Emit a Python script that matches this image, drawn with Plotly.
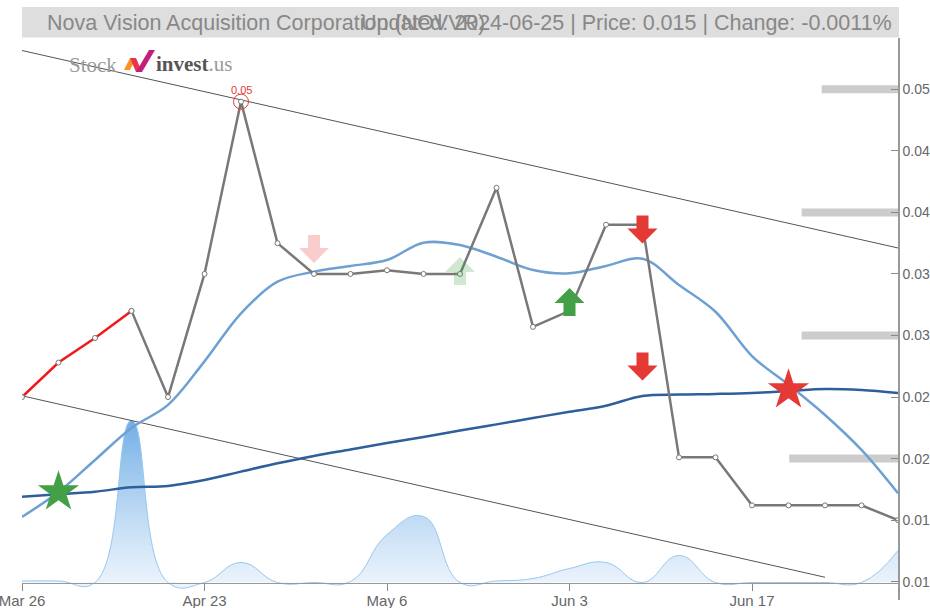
import plotly.graph_objects as go

# ---------------- data ----------------
n_points = 25
x_idx = list(range(n_points))
tick_idx = [0, 5, 10, 15, 20]
tick_labels = ["Mar 26", "Apr 23", "May 6", "Jun 3", "Jun 17"]

price = [0.025, 0.0278, 0.0298, 0.032, 0.025, 0.035, 0.049, 0.0375, 0.035, 0.035,
         0.0353, 0.035, 0.035, 0.042, 0.0307, 0.032, 0.039, 0.039, 0.0201, 0.0201,
         0.0162, 0.0162, 0.0162, 0.0162, 0.015]
red_segment_end = 3

ma_short = [0.01526, 0.01729, 0.01989, 0.02249, 0.02436, 0.0279, 0.0318, 0.03437,
            0.03518, 0.03565, 0.03613, 0.03754, 0.03735, 0.0364, 0.03532, 0.03505,
            0.03565, 0.03624, 0.0341, 0.03193, 0.02833, 0.026, 0.02354, 0.0207, 0.01718]
ma_long = [0.0169, 0.0171, 0.01731, 0.01767, 0.01778, 0.01826, 0.01894, 0.01962,
           0.02021, 0.02074, 0.02127, 0.02175, 0.02228, 0.02278, 0.0233, 0.0238,
           0.0243, 0.02509, 0.0252, 0.02525, 0.02533, 0.02549, 0.02565, 0.02557, 0.02533]
volume = [1.5, 1.5, 0, 162, 0, 0, 20, 0, 0, 1, 48, 66, 0, 1.5, 4, 14, 20, 0, 27,
          0, 0, 0, 0, 0, 32]

trend_upper_x = [0, 24]
trend_upper_y = [0.05315, 0.03711]
trend_lower_x = [0, 22]
trend_lower_y = [0.0251, 0.01036]

level_price = [0.05, 0.04, 0.03, 0.02]
level_len = [2.09, 2.64, 2.64, 2.98]

arrow_x = [8, 12, 15, 17, 17]
arrow_y = [0.03703, 0.03524, 0.03272, 0.03861, 0.02748]
arrow_kind = ["sell_faded", "buy_faded", "buy", "sell", "sell"]

star_x = [1, 21]
star_y = [0.01729, 0.02557]
star_kind = ["buy", "sell"]

peak_idx = 6
peak_label = "0.05"

title_left = "Nova Vision Acquisition Corporation (NOVVR)"
title_right = "Updated: 2024-06-25 | Price: 0.015 | Change: -0.0011%"

# ---------------- styles ----------------
FONT = "Liberation Sans, Arial, sans-serif"
GREEN = "rgb(67,160,71)"
RED = "rgb(229,57,53)"
kind_color = {
    "buy": GREEN, "sell": RED,
    "buy_faded": "rgba(67,160,71,0.25)", "sell_faded": "rgba(229,57,53,0.25)",
}
kind_dir = {"buy": "up", "buy_faded": "up", "sell": "down", "sell_faded": "down"}
ARROW_PATH = {
    "down": "M-6,14 L6,14 L6,1 L15,1 L0,-14 L-15,1 L-6,1 Z",
    "up": "M-6,-14 L6,-14 L6,-1 L15,-1 L0,14 L-15,-1 L-6,-1 Z",
}

fig = go.Figure()

vmax = max(volume)
fig.add_trace(go.Scatter(
    x=x_idx, y=volume, mode="lines",
    line=dict(shape="spline", smoothing=1.3, color="rgb(150,200,240)", width=1),
    fill="tozeroy",
    fillgradient=dict(type="vertical",
                      colorscale=[[0, "rgba(230,240,251,0.7)"], [1, "rgba(105,170,228,0.95)"]]),
    yaxis="y", hoverinfo="skip", showlegend=False))

for tx, ty in [(trend_upper_x, trend_upper_y), (trend_lower_x, trend_lower_y)]:
    fig.add_trace(go.Scatter(x=tx, y=ty, mode="lines", line=dict(color="#555", width=1),
                             yaxis="y2", showlegend=False, hoverinfo="skip"))

for lp, ll in zip(level_price, level_len):
    fig.add_trace(go.Scatter(x=[x_idx[-1] - ll, x_idx[-1]], y=[lp, lp], mode="lines",
                             line=dict(color="rgb(204,204,204)", width=8),
                             yaxis="y2", showlegend=False, hoverinfo="skip"))

fig.add_trace(go.Scatter(x=x_idx, y=ma_short, mode="lines",
                         line=dict(color="rgb(110,160,210)", width=2.5, shape="spline"),
                         yaxis="y2", showlegend=False))
fig.add_trace(go.Scatter(x=x_idx, y=ma_long, mode="lines",
                         line=dict(color="rgb(45,95,155)", width=2.5, shape="spline"),
                         yaxis="y2", showlegend=False))

mk = dict(size=5, color="white", line=dict(color="#777", width=1))
fig.add_trace(go.Scatter(x=x_idx[red_segment_end:], y=price[red_segment_end:], mode="lines+markers",
                         line=dict(color="rgb(120,120,120)", width=2.5), marker=mk,
                         yaxis="y2", showlegend=False))
fig.add_trace(go.Scatter(x=x_idx[:red_segment_end + 1], y=price[:red_segment_end + 1],
                         mode="lines+markers",
                         line=dict(color="rgb(240,25,25)", width=2.5), marker=mk,
                         yaxis="y2", showlegend=False))

fig.add_trace(go.Scatter(x=[x_idx[peak_idx]], y=[price[peak_idx]], mode="markers",
                         marker=dict(symbol="circle-open", size=15, color=RED, line=dict(width=1)),
                         yaxis="y2", showlegend=False))
fig.add_annotation(x=x_idx[peak_idx], y=price[peak_idx], yref="y2", text=peak_label,
                   showarrow=False, yshift=12, font=dict(color=RED, size=11, family=FONT))

fig.add_trace(go.Scatter(x=star_x, y=star_y, mode="markers",
                         marker=dict(symbol="star", size=31, color=[kind_color[k] for k in star_kind],
                                     line=dict(width=0)),
                         yaxis="y2", showlegend=False))

for ax_, ay_, k in zip(arrow_x, arrow_y, arrow_kind):
    fig.add_shape(type="path", xref="x", yref="y2", xsizemode="pixel", ysizemode="pixel",
                  xanchor=ax_, yanchor=ay_, path=ARROW_PATH[kind_dir[k]],
                  fillcolor=kind_color[k], line=dict(width=0), layer="above")

PW, PH = 876.0, 562.0
def px(xp):
    return (xp - 22) / PW
def py(yp):
    return (600 - yp) / PH

fig.add_shape(type="rect", xref="paper", yref="paper", x0=px(22), x1=px(899),
              y0=py(37.5), y1=py(7), fillcolor="rgb(222,222,222)", line=dict(width=0), layer="below")
fig.add_annotation(xref="paper", yref="paper", x=px(45), y=py(22.5), xanchor="left", yanchor="middle",
                   text=title_left, showarrow=False, font=dict(size=21.5, color="#888", family=FONT))
fig.add_annotation(xref="paper", yref="paper", x=px(894), y=py(22.5), xanchor="right", yanchor="middle",
                   text=title_right, showarrow=False, font=dict(size=21.5, color="#888", family=FONT))

SERIF = "Liberation Serif, DejaVu Serif, serif"
fig.add_annotation(xref="paper", yref="paper", x=px(67), y=py(65), xanchor="left", yanchor="middle",
                   text="Stock", showarrow=False, font=dict(size=21, color="#9a9a9a", family=SERIF))
fig.add_annotation(xref="paper", yref="paper", x=px(154), y=py(64), xanchor="left", yanchor="middle",
                   text="<span style='color:#555'><b>invest</b></span><span style='color:#999'>.us</span>",
                   showarrow=False, font=dict(size=21, family=SERIF))
logo_parts = [("M0,2 L6,14 L12,14 L6,2 Z", "rgb(247,148,29)"),
              ("M6,14 L12,14 L18,0 L12,0 Z", "rgb(232,52,78)"),
              ("M12,0 L18,0 L31,22 L25,22 Z", "rgb(194,31,122)")]
for pth, col in logo_parts:
    fig.add_shape(type="path", xref="paper", yref="paper", xsizemode="pixel", ysizemode="pixel",
                  xanchor=px(124), yanchor=py(72), path=pth, fillcolor=col, line=dict(width=0))

fig.update_layout(
    width=930, height=608,
    margin=dict(l=22, r=32, t=38, b=8, autoexpand=False),
    paper_bgcolor="white", plot_bgcolor="white",
    font=dict(family=FONT, color="#666"),
    xaxis=dict(range=[0, 24], anchor="free", position=py(582.5), tickmode="array",
               tickvals=tick_idx, ticktext=tick_labels, ticks="outside", ticklen=7,
               tickcolor="#888", showline=True, linecolor="#999", linewidth=1, automargin=False,
               ticklabeloverflow="allow", ticklabelstandoff=-3,
               showgrid=False, zeroline=False, tickfont=dict(size=15, color="#666")),
    yaxis=dict(range=[-17.5 / 162 * vmax, 544.5 / 162 * vmax], visible=False, showgrid=False,
               automargin=False),
    yaxis2=dict(range=[0.008513, 0.054167], overlaying="y", side="right", anchor="x",
                tick0=0.01, dtick=0.005, tickformat=".3f", ticks="inside", ticklen=7,
                tickcolor="#888", showline=True, linecolor="#999", linewidth=1.5, automargin=False,
                showgrid=False, zeroline=False, tickfont=dict(size=14, color="#666")),
    showlegend=False,
)

fig.write_html("out.html", config={"displayModeBar": False},
               post_script="document.body.style.margin='0';")
